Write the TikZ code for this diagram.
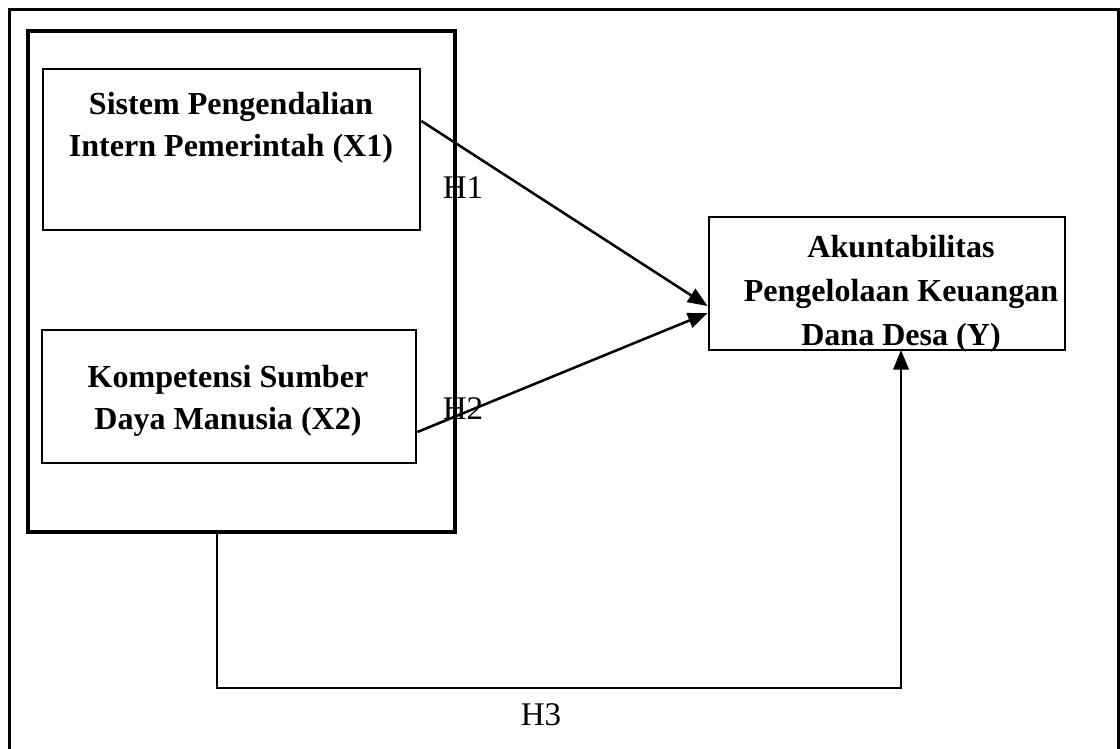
\documentclass[tikz,border=0pt]{standalone}
\usepackage{fontspec}
\setmainfont{Liberation Serif}
\usetikzlibrary{arrows.meta, calc}

\begin{document}
\begin{tikzpicture}[%
    x=0.025cm, y=-0.025cm,
    varbox/.style={
      draw,
      line width=2pt,
      inner sep=0pt
    },
    vartext/.style={
      align=center,
      font=\fontsize{22.8}{29.6}\selectfont\bfseries
    },
    hlabel/.style={
      font=\fontsize{23.5}{28}\selectfont
    },
    hypo/.style={
      line width=1.8pt,
      -{Triangle[length=14pt,width=11pt]}
    }]
    \useasboundingbox (0,0) rectangle (1120,749);
    % outer frame (bottom edge falls off the page)
    \draw[line width=2.2pt] (9.5,760) -- (9.5,9.5) -- (1118.5,9.5) -- (1118.5,760);

    \node[varbox, line width=2.9pt, minimum width=427*0.025cm, minimum height=501*0.025cm] at (241.5,281.5) (grp) {};
    \node[varbox, minimum width=377*0.025cm, minimum height=161*0.025cm] at (231.5,149.5) (x1) {};
    \node[varbox, minimum width=374*0.025cm, minimum height=133*0.025cm] at (229,396.5) (x2) {};
    \node[varbox, minimum width=356*0.025cm, minimum height=133*0.025cm] at (887,283.5) (y) {};

    \node[vartext] at (231,128) (x1txt) {Sistem Pengendalian\\Intern Pemerintah (X1)};
    \node[vartext] at (228,401) (x2txt) {Kompetensi Sumber\\Daya Manusia (X2)};
    \node[vartext, font=\fontsize{22.8}{31.2}\selectfont\bfseries] at (901,294) (ytxt) {Akuntabilitas\\Pengelolaan Keuangan\\Dana Desa (Y)};

    \coordinate (h1from) at (x1.east |- 0,121);
    \coordinate (h2from) at (x2.east |- 0,432);
    \coordinate (h1to) at (y.west |- 0,306);
    \coordinate (h2to) at (y.west |- 0,313);
    \coordinate (h3from) at (217,532);
    \coordinate (h3to) at (901,350);

    \path[draw,hypo] (h1from) -- (h1to);
    \path[draw,hypo] (h2from) -- (h2to);
    \path[draw,hypo] (h3from) |- (901,688) -- (h3to);

    \node[hlabel] at (463,188) (h1) {H1};
    \node[hlabel] at (463,409) (h2) {H2};
    \node[hlabel] at (541,715) (h3) {H3};
\end{tikzpicture}
\end{document}
